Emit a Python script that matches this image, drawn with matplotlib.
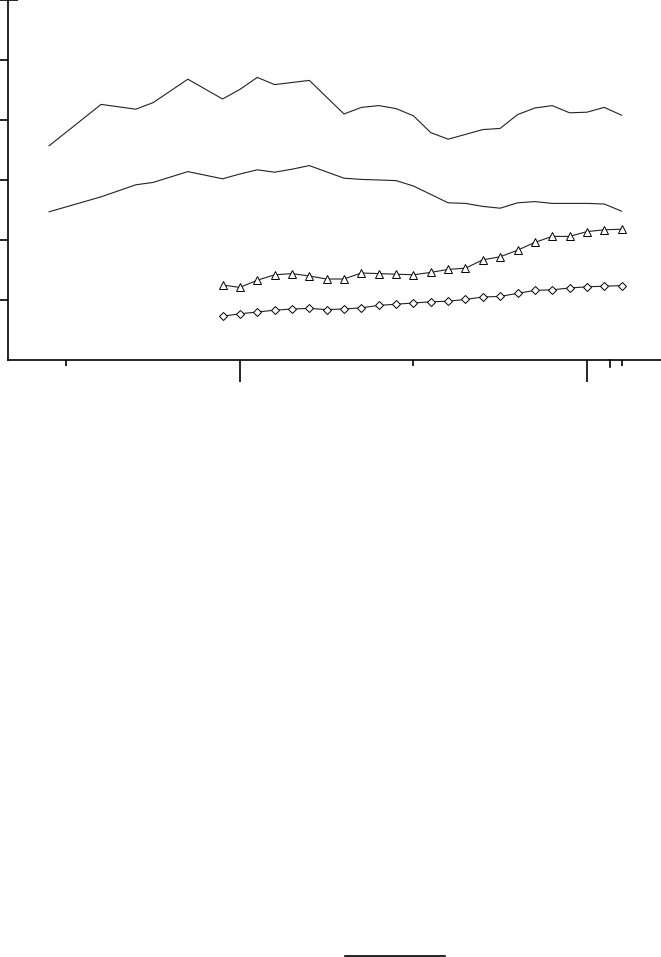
import matplotlib
matplotlib.use("Agg")
import matplotlib.pyplot as plt
from matplotlib.lines import Line2D

# year index (0 = first year of the long series)
top_x = [0, 3, 5, 6, 8, 10, 11, 12, 13, 15, 17, 18, 19, 20, 21, 22, 23, 24, 25,
         26, 27, 28, 29, 30, 31, 32, 33]
top_y = [3.57, 4.26, 4.18, 4.29, 4.68, 4.35, 4.51, 4.71, 4.59, 4.66, 4.10, 4.21,
         4.24, 4.19, 4.07, 3.79, 3.68, 3.76, 3.84, 3.86, 4.09, 4.20, 4.24, 4.12,
         4.13, 4.21, 4.08]

mid_x = [0, 3, 5, 6, 8, 10, 11, 12, 13, 14, 15, 17, 18, 19, 20, 21, 22, 23, 24,
         25, 26, 27, 28, 29, 30, 31, 32, 33]
mid_y = [2.47, 2.72, 2.92, 2.96, 3.14, 3.02, 3.10, 3.17, 3.13, 3.18, 3.24, 3.03,
         3.01, 3.00, 2.99, 2.90, 2.76, 2.62, 2.61, 2.56, 2.53, 2.62, 2.64, 2.61,
         2.61, 2.61, 2.60, 2.48]

mark_x = list(range(10, 34))
tri_y = [1.25, 1.21, 1.33, 1.42, 1.44, 1.40, 1.35, 1.35, 1.45, 1.44, 1.43, 1.42,
         1.46, 1.51, 1.53, 1.67, 1.72, 1.83, 1.96, 2.06, 2.06, 2.14, 2.17, 2.18]
dia_y = [0.73, 0.77, 0.80, 0.83, 0.85, 0.86, 0.84, 0.85, 0.87, 0.91, 0.93, 0.95,
         0.97, 0.98, 1.01, 1.05, 1.06, 1.11, 1.16, 1.17, 1.20, 1.22, 1.23, 1.24]

major_ticks = [11, 31]
minor_ticks = [1, 21, 33]
mid_tick = [32.33]

fig = plt.figure(figsize=(6.61, 9.57), dpi=100)
ax = fig.add_axes([8.3 / 661, 1 - 360 / 957, 1 - 8.3 / 661, 360 / 957])

lw = 0.8
ax.plot(top_x, top_y, color="#222222", lw=lw)
ax.plot(mid_x, mid_y, color="#222222", lw=lw)
ax.plot(mark_x, tri_y, color="#222222", lw=lw, marker="^", ms=6.3,
        mfc="white", mec="black", mew=0.7)
ax.plot(mark_x, dia_y, color="#222222", lw=lw, marker="D", ms=4.3,
        mfc="white", mec="black", mew=0.7)

ax.set_xlim(-2.35, 35.27)
ax.set_ylim(0, 6)

for s in ["top", "right"]:
    ax.spines[s].set_visible(False)
for s in ["left", "bottom"]:
    ax.spines[s].set_linewidth(1.2)

ax.set_yticks([1, 2, 3, 4, 5])
ax.set_yticks([6], minor=True)
ax.tick_params(axis="y", which="major", direction="out", length=8, width=1.2,
               labelleft=False)
ax.tick_params(axis="y", which="minor", direction="inout", length=14, width=1.2,
               labelleft=False)

ax.set_xticks(major_ticks)
ax.set_xticks(minor_ticks, minor=True)
ax.tick_params(axis="x", which="major", direction="out", length=16, width=1.2,
               labelbottom=False)
ax.tick_params(axis="x", which="minor", direction="out", length=4, width=1.2,
               labelbottom=False)
# one medium tick near the right end
ax.plot(mid_tick * 2, [0, -0.11], color="black", lw=1.2, clip_on=False)

# short rule at the very bottom of the page
fig.add_artist(Line2D([345 / 661, 445 / 661], [1 - 956 / 957] * 2,
                      color="black", lw=1.2))

fig.savefig("out.png", dpi=100)
